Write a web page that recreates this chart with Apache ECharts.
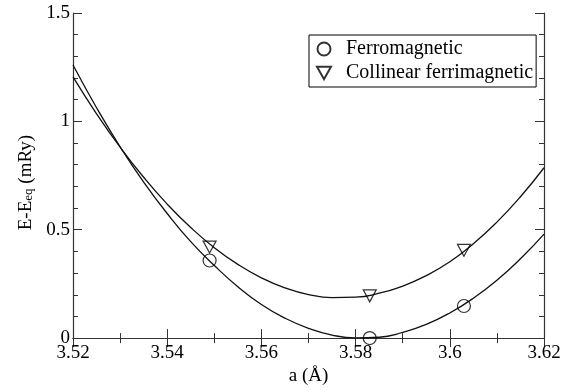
<!DOCTYPE html>
<html>
<head>
<meta charset="utf-8">
<script src="https://cdn.jsdelivr.net/npm/echarts@6/dist/echarts.min.js"></script>
<style>html,body{margin:0;padding:0;background:#fff}#c{width:574px;height:391px}</style>
</head>
<body>
<div id="c"></div>
<script>
// Fitted curves
const curveX = [3.520,3.525,3.530,3.535,3.540,3.545,3.550,3.555,3.560,3.565,3.570,3.575,3.580,3.585,3.590,3.595,3.600,3.605,3.610,3.615,3.620];
const ferroCurveY = [1.26,1.063,0.883,0.72,0.575,0.445,0.335,0.237,0.155,0.092,0.045,0.014,0.001,0.004,0.026,0.063,0.116,0.184,0.267,0.366,0.48];
const ferriCurveY = [1.205,1.035,0.881,0.742,0.618,0.51,0.417,0.34,0.278,0.232,0.201,0.187,0.189,0.207,0.24,0.288,0.352,0.435,0.535,0.652,0.786];
// Calculated points
const ferroPtsX = [3.549, 3.583, 3.603];
const ferroPtsY = [0.358, 0.0, 0.148];
const ferriPtsX = [3.549, 3.583, 3.603];
const ferriPtsY = [0.42, 0.195, 0.405];
const xTicks = ['3.52','3.54','3.56','3.58','3.6','3.62'];
const yTicks = ['0','0.5','1','1.5'];

const zip = (a, b) => a.map((v, i) => [v, b[i]]);
const font = 'Liberation Serif';
const axisCol = '#333';
const triPath = 'path://M0,0 L10,0 L5,9 Z';

const chart = echarts.init(document.getElementById('c'), null, {renderer: 'canvas'});
const baseX = {
  type: 'value', min: 3.52, max: 3.62, interval: 0.02,
  axisLine: {show: true, lineStyle: {color: axisCol, width: 1.2}},
  axisTick: {show: true, inside: true, length: 9, lineStyle: {color: axisCol}},
  minorTick: {show: true, splitNumber: 2, length: 5, lineStyle: {color: axisCol}},
  splitLine: {show: false}
};
const baseY = {
  type: 'value', min: 0, max: 1.5, interval: 0.5,
  axisLine: {show: true, lineStyle: {color: axisCol, width: 1.2}},
  axisTick: {show: true, inside: true, length: 9, lineStyle: {color: axisCol}},
  minorTick: {show: true, splitNumber: 5, length: 5, lineStyle: {color: axisCol}},
  splitLine: {show: false}
};
chart.setOption({
  animation: false,
  backgroundColor: '#fff',
  grid: {left: 73, right: 30, top: 13, bottom: 48},
  legend: {
    orient: 'vertical', left: 309, top: 35,
    padding: [3, 3, 3, 7], itemGap: 2,
    borderColor: '#000', borderWidth: 1,
    itemWidth: 14, itemHeight: 13,
    textStyle: {fontFamily: font, fontSize: 20, lineHeight: 22, color: '#000', padding: [0, 0, 0, 10]},
    data: [
      {name: 'Ferromagnetic', icon: 'circle'},
      {name: 'Collinear ferrimagnetic', icon: triPath}
    ]
  },
  xAxis: [
    Object.assign({}, baseX, {
      position: 'bottom',
      name: 'a (Å)', nameLocation: 'middle', nameGap: 24,
      nameTextStyle: {fontFamily: font, fontSize: 19, color: '#000'},
      axisLabel: {fontFamily: font, fontSize: 19, color: '#000', margin: 5,
        formatter: v => { const s = String(parseFloat(v.toFixed(2))); return xTicks.includes(s) ? s : ''; }}
    }),
    Object.assign({}, baseX, {position: 'top', axisLabel: {show: false}})
  ],
  yAxis: [
    Object.assign({}, baseY, {
      position: 'left',
      name: '{n|E-E}{s|eq}{n| (mRy)}', nameLocation: 'middle', nameGap: 35, nameRotate: 90,
      nameTextStyle: {fontFamily: font, fontSize: 19, color: '#000', padding: [0, 14, 0, 0],
        rich: {n: {fontFamily: font, fontSize: 19, color: '#000', verticalAlign: 'bottom', lineHeight: 22},
               s: {fontFamily: font, fontSize: 13, color: '#000', verticalAlign: 'bottom', lineHeight: 14}}},
      axisLabel: {fontFamily: font, fontSize: 19, color: '#000', margin: 3,
        formatter: v => { const s = String(parseFloat(v.toFixed(1))); return yTicks.includes(s) ? s : ''; }}
    }),
    Object.assign({}, baseY, {position: 'right', axisLabel: {show: false}})
  ],
  series: [
    {type: 'line', data: zip(curveX, ferroCurveY), smooth: 0.5, showSymbol: false,
     lineStyle: {color: '#111', width: 1.3}, silent: true, z: 2},
    {type: 'line', data: zip(curveX, ferriCurveY), smooth: 0.5, showSymbol: false,
     lineStyle: {color: '#111', width: 1.3}, silent: true, z: 2},
    {name: 'Ferromagnetic', type: 'scatter', data: zip(ferroPtsX, ferroPtsY),
     symbol: 'circle', symbolSize: 13,
     itemStyle: {color: 'rgba(0,0,0,0)', borderColor: '#000', borderWidth: 1.2}, z: 3},
    {name: 'Collinear ferrimagnetic', type: 'scatter', data: zip(ferriPtsX, ferriPtsY),
     symbol: triPath, symbolSize: [13, 12],
     itemStyle: {color: 'rgba(0,0,0,0)', borderColor: '#000', borderWidth: 1.2}, z: 3}
  ]
});
</script>
</body>
</html>
